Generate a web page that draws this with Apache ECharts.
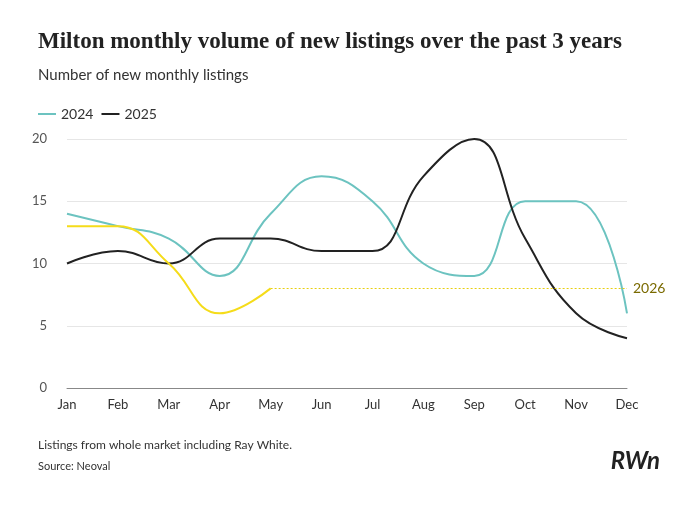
<!DOCTYPE html>
<html><head><meta charset="utf-8">
<script src="https://cdn.jsdelivr.net/npm/echarts@6/dist/echarts.min.js"></script>
<style>body{margin:0;background:#fff}#c{width:695px;height:510px}</style>
</head><body><div id="c"></div>
<script>
const months=['Jan','Feb','Mar','Apr','May','Jun','Jul','Aug','Sep','Oct','Nov','Dec'];
const s2024=[14,13,12,9,14,17,15,10,9,15,15,6];
const s2025=[10,11,10,12,12,11,11,17,20,12,6,4];
const s2026=[13,13,10,6,8];
const yTicks=[0,5,10,15,20];
const chart=echarts.init(document.getElementById('c'));
const tc='#333';
chart.setOption({
  animation:false,
  title:[{text:'Milton monthly volume of new listings over the past 3 years',left:33,top:26,textStyle:{fontFamily:'Liberation Serif',fontWeight:'bold',fontSize:23,color:'#222'}},
    {text:'Number of new monthly listings',left:33,top:63,textStyle:{fontFamily:'Lato',fontWeight:'normal',fontSize:15,color:'#333'}},
    {text:'Listings from whole market including Ray White.',left:33,top:434,textStyle:{fontFamily:'Lato',fontWeight:'normal',fontSize:12,color:'#333'}},
    {text:'Source: Neoval',left:33,top:456,textStyle:{fontFamily:'Lato',fontWeight:'normal',fontSize:11,color:'#333'}},
    {text:'RWn',right:30,top:444,textStyle:{fontFamily:'Lato',fontWeight:'bold',fontStyle:'italic',fontSize:24,color:'#222'}}],
  legend:{left:33,top:102,itemWidth:18,itemHeight:2,icon:'rect',data:['2024','2025'],textStyle:{fontFamily:'Lato',fontSize:14,color:tc}},
  grid:{left:67,right:68,top:139,bottom:122},
  xAxis:{type:'category',data:months,boundaryGap:false,axisLine:{lineStyle:{color:'#888'}},axisTick:{show:false},axisLabel:{margin:10,fontFamily:'Lato',fontSize:13,color:tc}},
  yAxis:{type:'value',min:0,max:20,interval:5,axisLabel:{margin:20,fontFamily:'Lato',fontSize:13,color:'#555',formatter:v=>yTicks.includes(v)?v:''},splitLine:{lineStyle:{color:'#e6e6e6'}}},
  series:[
    {name:'2024',type:'line',data:s2024,smooth:0.45,symbol:'none',lineStyle:{color:'#6cc3c0',width:2},itemStyle:{color:'#6cc3c0'}},
    {name:'2025',type:'line',data:s2025,smooth:0.45,symbol:'none',lineStyle:{color:'#222',width:2},itemStyle:{color:'#222'}},
    {name:'2026',type:'line',data:s2026,smooth:0.45,symbol:'none',lineStyle:{color:'#f5dc1a',width:2},itemStyle:{color:'#f5dc1a'},
     markLine:{symbol:'none',silent:true,lineStyle:{color:'#e8cf10',type:[2,2],width:1},
       label:{show:true,position:'end',formatter:'2026',color:'#7a6a00',fontFamily:'Lato',fontSize:14,distance:6},
       data:[[{coord:['May',8]},{coord:['Dec',8]}]]}}
  ]
});
</script></body></html>
